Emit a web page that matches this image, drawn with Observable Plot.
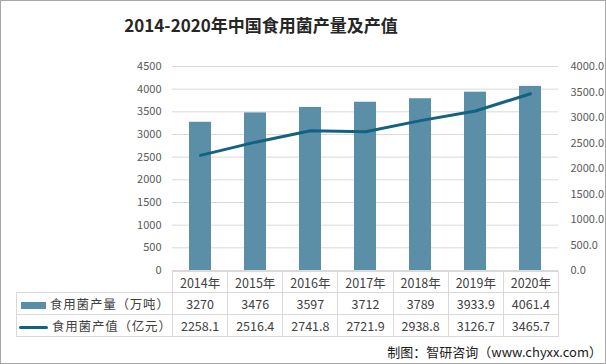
<!DOCTYPE html>
<html><head><meta charset="utf-8">
<script src="https://cdn.jsdelivr.net/npm/d3@7"></script>
<script src="https://cdn.jsdelivr.net/npm/@observablehq/plot@0.6"></script>
<style>
body{margin:0;background:#fff;}
#wrap{position:relative;width:606px;height:364px;overflow:hidden;font-family:"Noto Sans CJK SC","Noto Sans",sans-serif;background:#fff;}
#frame{position:absolute;left:0;top:0;width:606px;height:364px;box-sizing:border-box;border:1px solid #a6a6a6;pointer-events:none;}
#title{position:absolute;left:0;top:12px;width:522px;text-align:center;font-size:17px;font-weight:bold;line-height:26px;color:#262626;}
#chart{position:absolute;left:0;top:0;}
#tbl{position:absolute;left:16px;top:271px;border-collapse:collapse;table-layout:fixed;width:543px;font-size:12.5px;color:#404040;}
#tbl td{border:1px solid #d9d9d9;text-align:center;padding:0;white-space:nowrap;overflow:hidden;}
#tbl tr.h td{height:20px;}
#tbl tr.r td{height:21px;}
#tbl td.blank{border-top:none;border-left:none;}
#tbl td.lg{text-align:left;font-size:12.5px;letter-spacing:0.8px;}
.sw{display:inline-block;vertical-align:middle;margin-right:4px;}
#src{position:absolute;right:4px;top:342px;font-size:13px;line-height:20px;color:#1a1a1a;}
</style></head><body>
<div id="wrap"><div id="title"></div><div id="chart"></div><table id="tbl"></table><div id="src"></div><div id="frame"></div></div>
<script>
const title = "2014-2020年中国食用菌产量及产值";
const source = "制图：智研咨询（www.chyxx.com）";
const years = ["2014年","2015年","2016年","2017年","2018年","2019年","2020年"];
const output = [3270, 3476, 3597, 3712, 3789, 3933.9, 4061.4];
const outputLabels = ["3270","3476","3597","3712","3789","3933.9","4061.4"];
const value = [2258.1, 2516.4, 2741.8, 2721.9, 2938.8, 3126.7, 3465.7];
const seriesNames = ["食用菌产量（万吨）", "食用菌产值（亿元）"];
const leftTicks = [0,500,1000,1500,2000,2500,3000,3500,4000,4500];
const rightTicks = [0,500,1000,1500,2000,2500,3000,3500,4000];

const barColor = "#5b8fa7";
const lineColor = "#146282";
const k = 4500 / 4000;

document.getElementById("title").textContent = title;
document.getElementById("src").textContent = source;

const data = years.map((y, i) => ({year: y, output: output[i], value: value[i]}));

const chart = Plot.plot({
  width: 606, height: 364,
  marginTop: 66, marginBottom: 94, marginLeft: 172, marginRight: 48,
  style: {fontFamily: "'Noto Sans CJK SC','Noto Sans',sans-serif", fontSize: "11px", background: "transparent", color: "#595959"},
  x: {type: "band", domain: years, paddingInner: 0.6, paddingOuter: 0.3, axis: null},
  y: {domain: [0, 4500], axis: null},
  marks: [
    Plot.gridY(leftTicks, {stroke: "#d9d9d9", strokeOpacity: 1}),
    Plot.axisY(leftTicks, {anchor: "left", tickSize: 0, tickPadding: 11, label: null, fill: "#595959", tickFormat: d => String(d)}),
    Plot.axisY(rightTicks.map(d => d * k), {anchor: "right", tickSize: 0, tickPadding: 12, label: null, fill: "#595959", tickFormat: d => (d / k).toFixed(1)}),
    Plot.barY(data, {x: "year", y: "output", fill: barColor}),
    Plot.lineY(data, {x: "year", y: d => d.value * k, stroke: lineColor, strokeWidth: 3, strokeLinecap: "round"})
  ]
});
document.getElementById("chart").appendChild(chart);

// data table
const tbl = document.getElementById("tbl");
const colW = 386 / years.length;
let html = '<colgroup><col style="width:156px">' + years.map(() => `<col style="width:${colW}px">`).join("") + '</colgroup>';
html += '<tr class="h"><td class="blank"></td>' + years.map(y => `<td>${y}</td>`).join("") + '</tr>';
html += `<tr class="r"><td class="lg"><span class="sw" style="width:25px;height:7px;background:${barColor};margin-left:4px"></span>${seriesNames[0]}</td>` + outputLabels.map(v => `<td>${v}</td>`).join("") + '</tr>';
html += `<tr class="r"><td class="lg"><span class="sw" style="width:29px;height:3px;border-radius:2px;background:${lineColor};margin-left:2px"></span>${seriesNames[1]}</td>` + value.map(v => `<td>${v.toFixed(1)}</td>`).join("") + '</tr>';
tbl.innerHTML = html;
</script>
</body></html>
